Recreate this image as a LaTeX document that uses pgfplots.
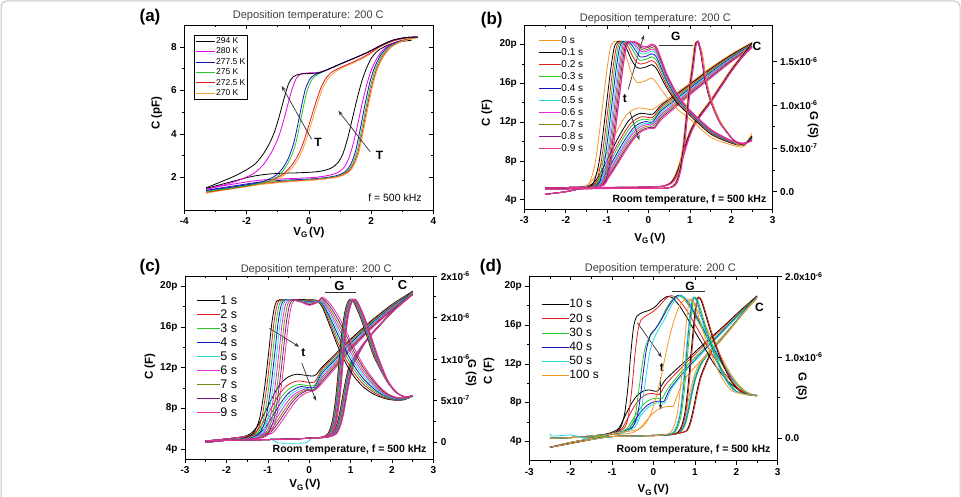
\documentclass[border=0pt]{standalone}
\usepackage{fontspec}
\setmainfont{Liberation Sans}
\usepackage{pgfplots}
\pgfplotsset{compat=1.18}
\usetikzlibrary{arrows.meta}

\definecolor{cOr}{RGB}{245,150,40}
\definecolor{cRd}{RGB}{225,30,30}
\definecolor{cGn}{RGB}{40,200,40}
\definecolor{cBl}{RGB}{20,20,190}
\definecolor{cCy}{RGB}{40,220,220}
\definecolor{cMg}{RGB}{225,40,225}
\definecolor{cOl}{RGB}{130,130,20}
\definecolor{cPu}{RGB}{130,20,130}
\definecolor{cPk}{RGB}{230,50,150}
\definecolor{aMg}{RGB}{230,0,230}
\definecolor{aOr}{RGB}{245,160,60}

\pgfplotsset{
  panel/.style={scale only axis, axis line style={line width=0.6pt},
    tick style={black, line width=0.5pt}, major tick length=4pt, minor tick length=2.4pt,
    tick align=outside, ticklabel style={font=\bfseries\fontsize{10}{12}\selectfont},
    /pgf/number format/assume math mode=true},
  mirror/.style={scale only axis, axis line style={draw=none},
    tick style={black, line width=0.5pt}, major tick length=4pt, minor tick length=2.4pt,
    tick align=inside, xticklabels={}, yticklabels={}},
  gax/.style={panel, axis x line=none, axis y line*=right, y axis line style={-, line width=0.6pt}},
  crv/.style={line width=0.8pt, smooth, tension=0.45, mark=none},
  posA/.style={at={(184.3pt,286pt)}, anchor=south west, width=249pt, height=185pt},
  posB/.style={at={(524.3pt,286.7pt)}, anchor=south west, width=248.4pt, height=184.3pt},
  posC/.style={at={(185pt,36.7pt)}, anchor=south west, width=248.3pt, height=183.3pt},
  posD/.style={at={(529.3pt,35.3pt)}, anchor=south west, width=248.4pt, height=184.2pt},
}
\tikzset{
  arr/.style={-{Stealth[length=5pt,width=3.6pt]}, black!80, line width=0.7pt},
  lab/.style={font=\bfseries\fontsize{12}{12}\selectfont},
  ttl/.style={font=\fontsize{11}{13}\selectfont, text=black!75},
  axl/.style={font=\bfseries\fontsize{11.5}{13}\selectfont},
  rt/.style={font=\bfseries\fontsize{10.5}{12}\selectfont, anchor=east},
}
\newcommand{\VG}{V\raisebox{-0.4ex}{\fontsize{8}{8}\selectfont G}\,(V)}

\begin{document}
\begin{tikzpicture}[x=1pt,y=1pt]
\useasboundingbox (0pt,0pt) rectangle (961pt,496pt);
\draw[black!22, line width=1pt, rounded corners=6pt] (1pt,-20pt) -- (1pt,495pt) -- (960pt,495pt) -- (960pt,-20pt);

% ================= (a) temperature series =================
\begin{axis}[panel, posA,
  xmin=-4, xmax=4, ymin=0.5, ymax=9, xtick pos=bottom, ytick pos=left,
  xtick={-4,-2,0,2,4}, xticklabels={-4,-2,0,2,4}, minor x tick num=1,
  ytick={2,4,6,8}, yticklabels={2,4,6,8}, minor y tick num=1,
  legend cell align=left,
  legend style={at={(0.039,0.946)}, anchor=north west, draw=black, line width=0.4pt, inner sep=1.5pt,
    font=\fontsize{8.5}{9}\selectfont, row sep=1.2pt, nodes={inner sep=0.6pt, text height=6.2pt, text depth=1.8pt}},
  legend image code/.code={\draw[#1] (0pt,0pt) -- (19pt,0pt);}]
\addplot[crv, black] coordinates {(-3.3,1.49) (-2.8,1.68) (-2.3,1.87) (-1.8,2.05) (-1.3,2.15) (-0.8,2.19) (-0.3,2.21) (0.2,2.25) (0.5,2.32) (0.75,2.45) (0.95,2.7) (1.1,3.1) (1.25,3.8) (1.4,4.7) (1.55,5.6) (1.7,6.4) (1.85,7.0) (2.0,7.45) (2.2,7.8) (2.5,8.05) (2.8,8.2) (3.3,8.3)};
\addplot[crv, aMg] coordinates {(-3.3,1.45) (-2.8,1.6) (-2.3,1.72) (-1.8,1.83) (-1.3,1.9) (-0.8,1.93) (-0.3,1.96) (0.2,2.0) (0.6,2.08) (0.9,2.2) (1.1,2.4) (1.25,2.75) (1.4,3.4) (1.55,4.3) (1.7,5.3) (1.85,6.2) (2.0,6.9) (2.2,7.5) (2.45,7.95) (2.8,8.22) (3.2,8.35) (3.5,8.45)};
\addplot[crv, cBl] coordinates {(-3.3,1.4) (-2.8,1.52) (-2.3,1.63) (-1.8,1.74) (-1.3,1.82) (-0.8,1.87) (-0.3,1.9) (0.2,1.94) (0.6,2.0) (0.95,2.1) (1.2,2.3) (1.35,2.6) (1.5,3.2) (1.65,4.2) (1.8,5.3) (1.95,6.3) (2.1,7.0) (2.3,7.6) (2.55,8.0) (2.9,8.25) (3.5,8.45)};
\addplot[crv, cGn] coordinates {(-3.3,1.35) (-2.8,1.47) (-2.3,1.58) (-1.8,1.69) (-1.3,1.77) (-0.8,1.83) (-0.3,1.87) (0.2,1.91) (0.6,1.97) (1.0,2.08) (1.25,2.3) (1.4,2.6) (1.55,3.2) (1.7,4.2) (1.85,5.3) (2.0,6.3) (2.15,7.0) (2.35,7.6) (2.6,8.0) (2.95,8.25) (3.5,8.45)};
\addplot[crv, cRd] coordinates {(-3.3,1.32) (-2.8,1.44) (-2.3,1.55) (-1.8,1.66) (-1.3,1.74) (-0.8,1.8) (-0.3,1.85) (0.2,1.89) (0.6,1.95) (1.0,2.06) (1.28,2.28) (1.43,2.58) (1.58,3.15) (1.73,4.15) (1.88,5.25) (2.03,6.25) (2.18,6.97) (2.38,7.57) (2.63,7.99) (2.98,8.25) (3.5,8.44)};
\addplot[crv, aOr] coordinates {(-3.3,1.28) (-2.8,1.4) (-2.3,1.51) (-1.8,1.62) (-1.3,1.71) (-0.8,1.78) (-0.3,1.83) (0.2,1.88) (0.6,1.94) (1.0,2.04) (1.3,2.25) (1.45,2.55) (1.6,3.1) (1.75,4.1) (1.9,5.2) (2.05,6.2) (2.2,6.95) (2.4,7.55) (2.65,7.98) (3.0,8.25) (3.5,8.42)};
\legend{294 K, 280 K, 277.5 K, 275 K, 272.5 K, 270 K}
% return sweeps
\addplot[crv, aOr, forget plot] coordinates {(-3.3,1.28) (-2.6,1.45) (-2.0,1.58) (-1.5,1.72) (-1.05,1.9) (-0.75,2.15) (-0.5,2.5) (-0.3,2.95) (-0.15,3.45) (0.0,4.1) (0.15,4.8) (0.3,5.5) (0.45,6.1) (0.6,6.5) (0.8,6.8) (1.1,7.05) (1.5,7.3) (1.9,7.6) (2.3,8.0) (2.7,8.25) (3.1,8.38) (3.5,8.42)};
\addplot[crv, cRd, forget plot] coordinates {(-3.3,1.32) (-2.6,1.46) (-2.0,1.6) (-1.5,1.74) (-1.1,1.93) (-0.8,2.18) (-0.55,2.55) (-0.35,3.0) (-0.2,3.5) (-0.05,4.15) (0.1,4.85) (0.25,5.55) (0.4,6.15) (0.55,6.55) (0.75,6.85) (1.1,7.1) (1.5,7.35) (1.9,7.65) (2.3,8.02) (2.7,8.27) (3.1,8.4) (3.5,8.44)};
\addplot[crv, cGn, forget plot] coordinates {(-3.3,1.35) (-2.6,1.48) (-2.0,1.62) (-1.5,1.75) (-1.05,2.0) (-0.8,2.35) (-0.6,2.85) (-0.45,3.4) (-0.35,4.0) (-0.25,4.7) (-0.15,5.4) (-0.05,6.0) (0.1,6.5) (0.25,6.7) (0.38,6.8) (0.6,6.95) (1.0,7.2) (1.5,7.5) (1.9,7.75) (2.3,8.05) (2.7,8.3) (3.1,8.42) (3.5,8.45)};
\addplot[crv, cBl, forget plot] coordinates {(-3.3,1.4) (-2.6,1.53) (-2.0,1.66) (-1.5,1.8) (-1.1,2.05) (-0.85,2.4) (-0.65,2.9) (-0.5,3.5) (-0.4,4.1) (-0.3,4.8) (-0.2,5.5) (-0.1,6.1) (0.05,6.55) (0.2,6.72) (0.35,6.8) (0.6,6.95) (1.0,7.2) (1.5,7.5) (1.9,7.75) (2.3,8.05) (2.7,8.3) (3.1,8.42) (3.5,8.45)};
\addplot[crv, aMg, forget plot] coordinates {(-3.3,1.45) (-2.6,1.7) (-2.1,1.95) (-1.75,2.2) (-1.45,2.6) (-1.2,3.15) (-1.0,3.75) (-0.85,4.4) (-0.7,5.2) (-0.55,6.0) (-0.4,6.55) (-0.25,6.75) (0.0,6.8) (0.3,6.82) (0.6,6.95) (1.0,7.2) (1.5,7.5) (1.9,7.75) (2.3,8.05) (2.7,8.3) (3.1,8.42) (3.5,8.45)};
\addplot[crv, black, forget plot] coordinates {(-3.3,1.52) (-2.9,1.75) (-2.4,2.05) (-2.0,2.35) (-1.7,2.65) (-1.45,3.1) (-1.25,3.6) (-1.1,4.1) (-0.95,4.8) (-0.8,5.6) (-0.65,6.3) (-0.5,6.62) (-0.3,6.74) (0.0,6.77) (0.3,6.8) (0.6,6.95) (1.0,7.2) (1.5,7.5) (1.9,7.75) (2.3,8.05) (2.7,8.3) (3.1,8.42) (3.5,8.45)};
\draw[arr] (axis cs:0.09,3.75) -- (axis cs:-0.87,6.2);
\node[lab] at (axis cs:0.3,3.62) {T};
\draw[arr] (axis cs:1.97,3.18) -- (axis cs:0.95,5.06);
\node[lab] at (axis cs:2.27,3.02) {T};
\node[anchor=east, font=\fontsize{10.5}{12}\selectfont] at (axis cs:3.74,1.05) {f = 500 kHz};
\end{axis}
\begin{axis}[mirror, posA,
  xmin=-4, xmax=4, ymin=0.5, ymax=9, axis x line*=top, axis y line*=right,
  xtick={-4,-2,0,2,4}, minor x tick num=1, ytick={2,4,6,8}, minor y tick num=1]
\end{axis}
\node[font=\bfseries\fontsize{17}{17}\selectfont] at (150pt,478.7pt) {(a)};
\node[ttl] at (308.3pt,480pt) {Deposition temperature: 200 C};
\node[axl, rotate=90] at (156.7pt,382.7pt) {C (pF)};
\node[axl] at (309pt,263.7pt) {\VG};

% ================= (b) 0-0.9 s =================
\begin{axis}[panel, posB,
  xmin=-3, xmax=3, ymin=3, ymax=22, xtick pos=bottom, ytick pos=left,
  xtick={-3,-2,-1,0,1,2,3}, xticklabels={-3,-2,-1,0,1,2,3}, minor x tick num=1,
  ytick={4,8,12,16,20}, yticklabels={4p,8p,12p,16p,20p}, minor y tick num=1,
  legend cell align=left,
  legend style={at={(0.043,0.957)}, anchor=north west, draw=none, fill=none,
    font=\fontsize{10}{11}\selectfont, row sep=1pt, nodes={inner sep=0.5pt, text height=7.8pt, text depth=2.2pt}},
  legend image code/.code={\draw[#1] (0pt,0pt) -- (22pt,0pt);}]
\addplot[crv, cOr] coordinates {(-2.5,5.2) (-2.0,5.25) (-1.6,5.3) (-1.45,5.58) (-1.3,6.32) (-1.15,7.55) (-1.0,8.94) (-0.85,10.33) (-0.7,11.56) (-0.55,12.63) (-0.4,13.2) (-0.22,13.45) (-0.05,13.35) (0.1,13.3) (0.3,13.9) (0.6,14.8) (1.0,16.0) (1.5,17.6) (2.0,19.0) (2.5,20.2)};
\addplot[crv, black] coordinates {(-2.5,5.2) (-2.0,5.25) (-1.6,5.3) (-1.38,5.56) (-1.23,6.24) (-1.08,7.39) (-0.93,8.69) (-0.78,9.99) (-0.63,11.14) (-0.48,12.14) (-0.33,12.67) (-0.18,12.9) (0.1,12.81) (0.3,13.71) (0.6,14.63) (1.0,15.87) (1.5,17.48) (2.0,18.91) (2.5,20.15)};
\addplot[crv, cRd] coordinates {(-2.5,5.2) (-2.0,5.25) (-1.6,5.3) (-1.34,5.54) (-1.19,6.2) (-1.04,7.29) (-0.89,8.54) (-0.74,9.78) (-0.59,10.87) (-0.44,11.82) (-0.29,12.33) (-0.14,12.55) (0.1,12.48) (0.3,13.52) (0.6,14.47) (1.0,15.73) (1.5,17.36) (2.0,18.82) (2.5,20.09)};
\addplot[crv, cGn] coordinates {(-2.5,5.2) (-2.0,5.25) (-1.6,5.3) (-1.31,5.53) (-1.16,6.17) (-1.01,7.22) (-0.86,8.42) (-0.71,9.62) (-0.56,10.68) (-0.41,11.6) (-0.26,12.09) (-0.11,12.3) (0.1,12.24) (0.3,13.33) (0.6,14.3) (1.0,15.6) (1.5,17.23) (2.0,18.73) (2.5,20.03)};
\addplot[crv, cBl] coordinates {(-2.5,5.2) (-2.0,5.25) (-1.6,5.3) (-1.27,5.52) (-1.12,6.13) (-0.97,7.15) (-0.82,8.31) (-0.67,9.47) (-0.52,10.49) (-0.37,11.37) (-0.22,11.85) (-0.07,12.05) (0.1,12.01) (0.3,13.15) (0.6,14.13) (1.0,15.47) (1.5,17.11) (2.0,18.64) (2.5,19.98)};
\addplot[crv, cCy] coordinates {(-2.5,5.2) (-2.0,5.25) (-1.6,5.3) (-1.24,5.52) (-1.09,6.11) (-0.94,7.11) (-0.79,8.24) (-0.64,9.37) (-0.49,10.37) (-0.34,11.24) (-0.19,11.7) (-0.04,11.9) (0.1,11.87) (0.3,12.95) (0.6,13.97) (1.0,15.33) (1.5,16.99) (2.0,18.56) (2.5,19.92)};
\addplot[crv, cMg] coordinates {(-2.5,5.2) (-2.0,5.25) (-1.6,5.3) (-1.22,5.51) (-1.07,6.1) (-0.92,7.07) (-0.77,8.18) (-0.62,9.28) (-0.47,10.26) (-0.32,11.1) (-0.17,11.56) (-0.02,11.75) (0.1,11.73) (0.3,12.77) (0.6,13.8) (1.0,15.2) (1.5,16.87) (2.0,18.47) (2.5,19.87)};
\addplot[crv, cOl] coordinates {(-2.5,5.2) (-2.0,5.25) (-1.6,5.3) (-1.19,5.5) (-1.04,6.08) (-0.89,7.03) (-0.74,8.11) (-0.59,9.19) (-0.44,10.14) (-0.29,10.97) (-0.14,11.41) (0.01,11.6) (0.12,11.59) (0.3,12.58) (0.6,13.63) (1.0,15.07) (1.5,16.74) (2.0,18.38) (2.5,19.81)};
\addplot[crv, cPu] coordinates {(-2.5,5.2) (-2.0,5.25) (-1.6,5.3) (-1.17,5.5) (-1.02,6.06) (-0.87,6.99) (-0.72,8.04) (-0.57,9.09) (-0.42,10.02) (-0.27,10.83) (-0.12,11.26) (0.03,11.45) (0.14,11.44) (0.3,12.39) (0.6,13.47) (1.0,14.93) (1.5,16.62) (2.0,18.29) (2.5,19.76)};
\addplot[crv, cPk] coordinates {(-2.5,5.2) (-2.0,5.25) (-1.6,5.3) (-1.15,5.49) (-1.0,6.04) (-0.85,6.96) (-0.7,7.99) (-0.55,9.03) (-0.4,9.95) (-0.25,10.74) (-0.1,11.17) (0.05,11.35) (0.15,11.35) (0.3,12.2) (0.6,13.3) (1.0,14.8) (1.5,16.5) (2.0,18.2) (2.5,19.7)};
\legend{0 s, 0.1 s, 0.2 s, 0.3 s, 0.4 s, 0.5 s, 0.6 s, 0.7 s, 0.8 s, 0.9 s}
% reverse sweep capacitance
\addplot[crv, cOr, forget plot] coordinates {(-2.5,5.2) (-1.7,5.22) (-1.0,5.25) (-0.3,5.28) (0.2,5.33) (0.36,5.42) (0.51,5.7) (0.61,6.25) (0.71,7.3) (0.81,8.7) (0.91,10.1) (1.01,11.2) (1.11,12.0) (1.26,12.95) (1.5,14.3) (1.75,15.9) (2.0,17.5) (2.25,18.9) (2.5,20.2)};
\addplot[crv, black, forget plot] coordinates {(-2.5,5.2) (-1.7,5.22) (-1.0,5.25) (-0.3,5.28) (0.2,5.33) (0.38,5.42) (0.53,5.7) (0.63,6.25) (0.73,7.3) (0.83,8.7) (0.93,10.1) (1.03,11.2) (1.13,12.0) (1.28,12.92) (1.5,14.15) (1.75,15.75) (2.0,17.35) (2.25,18.75) (2.5,20.15)};
\addplot[crv, cPu, forget plot] coordinates {(-2.5,5.2) (-1.7,5.22) (-1.0,5.25) (-0.3,5.28) (0.2,5.33) (0.4,5.42) (0.55,5.7) (0.65,6.25) (0.75,7.3) (0.85,8.7) (0.95,10.1) (1.05,11.2) (1.15,12.0) (1.3,12.9) (1.5,14.0) (1.75,15.6) (2.0,17.2) (2.25,18.6) (2.5,19.76)};
\addplot[crv, cPk, line width=1.2pt, forget plot] coordinates {(-2.5,5.2) (-1.7,5.22) (-1.0,5.25) (-0.3,5.28) (0.2,5.33) (0.41,5.42) (0.56,5.7) (0.66,6.25) (0.76,7.3) (0.86,8.7) (0.96,10.1) (1.06,11.2) (1.16,12.0) (1.31,12.9) (1.5,14.0) (1.75,15.6) (2.0,17.2) (2.25,18.6) (2.5,19.7)};
\draw[black!80, line width=0.7pt] (axis cs:0.25,19.94) -- (axis cs:1.075,19.94);
\node[lab] at (axis cs:0.66,20.87) {G};
\node[lab] at (axis cs:2.62,19.84) {C};
\node[lab] at (axis cs:-0.57,14.37) {t};
\draw[arr] (axis cs:-0.49,15.37) -- (axis cs:-0.11,20.97);
\draw[arr] (axis cs:-0.45,13.06) -- (axis cs:-0.22,10.14);
\node[rt] at (axis cs:2.93,3.96) {Room temperature, f = 500 kHz};
\end{axis}
\begin{axis}[gax, posB,
  xmin=-3, xmax=3, ymin=-0.203, ymax=1.923, ytick={0,0.5,1,1.5},
  yticklabels={0.0, 5.0x10\textsuperscript{-7}, 1.0x10\textsuperscript{-6}, 1.5x10\textsuperscript{-6}}, minor y tick num=1]
\addplot[crv, cOr] coordinates {(-2.5,-0.03) (-2.0,0.0) (-1.7,0.03) (-1.45,0.08) (-1.3,0.3) (-1.2,0.63) (-1.1,1.03) (-1.0,1.42) (-0.92,1.66) (-0.84,1.73) (-0.72,1.73) (-0.6,1.64) (-0.5,1.50) (-0.4,1.35) (-0.27,1.26) (-0.1,1.275) (0.08,1.31) (0.2,1.25) (0.44,1.09) (0.7,0.95) (1.0,0.84) (1.5,0.63) (2.0,0.54) (2.3,0.52) (2.5,0.67)};
\addplot[crv, black] coordinates {(-2.5,-0.03) (-2.0,0.0) (-1.7,0.03) (-1.36,0.08) (-1.21,0.3) (-1.11,0.63) (-1.01,1.03) (-0.91,1.42) (-0.83,1.66) (-0.75,1.73) (-0.63,1.73) (-0.52,1.64) (-0.42,1.53) (-0.3,1.44) (-0.2,1.424) (-0.05,1.44) (0.08,1.466) (0.2,1.414) (0.44,1.198) (0.7,1.018) (1.0,0.88) (1.5,0.666) (2.0,0.56) (2.3,0.536) (2.5,0.638)};
\addplot[crv, cRd] coordinates {(-2.5,-0.03) (-2.0,0.0) (-1.7,0.03) (-1.31,0.08) (-1.16,0.3) (-1.06,0.63) (-0.96,1.03) (-0.86,1.42) (-0.78,1.66) (-0.70,1.73) (-0.58,1.73) (-0.48,1.66) (-0.38,1.56) (-0.28,1.49) (-0.18,1.473) (-0.04,1.49) (0.08,1.513) (0.2,1.463) (0.44,1.23) (0.7,1.038) (1.0,0.892) (1.5,0.677) (2.0,0.566) (2.3,0.541) (2.5,0.628)};
\addplot[crv, cGn] coordinates {(-2.5,-0.03) (-2.0,0.0) (-1.7,0.03) (-1.27,0.08) (-1.12,0.3) (-1.02,0.63) (-0.92,1.03) (-0.82,1.42) (-0.74,1.66) (-0.66,1.73) (-0.54,1.73) (-0.44,1.68) (-0.34,1.6) (-0.22,1.518) (-0.04,1.53) (0.08,1.555) (0.2,1.508) (0.44,1.26) (0.7,1.057) (1.0,0.903) (1.5,0.687) (2.0,0.572) (2.3,0.545) (2.5,0.62)};
\addplot[crv, cBl] coordinates {(-2.5,-0.03) (-2.0,0.0) (-1.7,0.03) (-1.23,0.08) (-1.08,0.3) (-0.98,0.63) (-0.88,1.03) (-0.78,1.42) (-0.70,1.66) (-0.62,1.73) (-0.50,1.73) (-0.40,1.69) (-0.30,1.62) (-0.2,1.555) (-0.04,1.565) (0.08,1.591) (0.2,1.545) (0.44,1.284) (0.7,1.072) (1.0,0.912) (1.5,0.695) (2.0,0.576) (2.3,0.549) (2.5,0.612)};
\addplot[crv, cCy] coordinates {(-2.5,-0.03) (-2.0,0.0) (-1.7,0.03) (-1.19,0.08) (-1.04,0.3) (-0.94,0.63) (-0.84,1.03) (-0.74,1.42) (-0.66,1.66) (-0.58,1.73) (-0.46,1.73) (-0.36,1.70) (-0.26,1.63) (-0.16,1.588) (-0.02,1.60) (0.08,1.622) (0.2,1.578) (0.44,1.306) (0.7,1.086) (1.0,0.92) (1.5,0.702) (2.0,0.58) (2.3,0.552) (2.5,0.606)};
\addplot[crv, cMg] coordinates {(-2.5,-0.03) (-2.0,0.0) (-1.7,0.03) (-1.16,0.08) (-1.01,0.3) (-0.91,0.63) (-0.81,1.03) (-0.71,1.42) (-0.63,1.66) (-0.55,1.73) (-0.43,1.73) (-0.33,1.70) (-0.23,1.64) (-0.14,1.613) (-0.02,1.625) (0.08,1.646) (0.2,1.603) (0.44,1.322) (0.7,1.096) (1.0,0.926) (1.5,0.707) (2.0,0.583) (2.3,0.554) (2.5,0.601)};
\addplot[crv, cOl] coordinates {(-2.5,-0.03) (-2.0,0.0) (-1.7,0.03) (-1.13,0.08) (-0.98,0.3) (-0.88,0.63) (-0.78,1.03) (-0.68,1.42) (-0.60,1.66) (-0.52,1.73) (-0.40,1.73) (-0.30,1.71) (-0.2,1.65) (-0.12,1.633) (0.0,1.645) (0.08,1.665) (0.2,1.623) (0.44,1.336) (0.7,1.105) (1.0,0.931) (1.5,0.712) (2.0,0.586) (2.3,0.556) (2.5,0.597)};
\addplot[crv, cPu] coordinates {(-2.5,-0.03) (-2.0,0.0) (-1.7,0.03) (-1.10,0.08) (-0.95,0.3) (-0.85,0.63) (-0.75,1.03) (-0.65,1.42) (-0.57,1.66) (-0.49,1.73) (-0.37,1.73) (-0.27,1.71) (-0.17,1.66) (-0.1,1.654) (0.0,1.665) (0.08,1.685) (0.2,1.644) (0.44,1.349) (0.7,1.113) (1.0,0.936) (1.5,0.716) (2.0,0.588) (2.3,0.558) (2.5,0.593)};
\addplot[crv, cPk, line width=1.2pt] coordinates {(-2.5,-0.03) (-2.0,0.0) (-1.7,0.03) (-1.07,0.08) (-0.92,0.3) (-0.82,0.63) (-0.72,1.03) (-0.62,1.42) (-0.54,1.66) (-0.46,1.73) (-0.34,1.73) (-0.24,1.71) (-0.14,1.675) (-0.06,1.67) (0.0,1.68) (0.08,1.70) (0.2,1.66) (0.44,1.36) (0.7,1.12) (1.0,0.94) (1.5,0.72) (2.0,0.59) (2.3,0.56) (2.5,0.59)};
% reverse sweep conductance
\addplot[crv, cOr] coordinates {(-2.5,0.03) (-1.5,0.035) (-0.5,0.04) (0.3,0.04) (0.515,0.05) (0.645,0.1) (0.745,0.26) (0.825,0.52) (0.895,0.85) (0.965,1.17) (1.045,1.45) (1.105,1.68) (1.18,1.735) (1.3,1.60) (1.38,1.35) (1.48,1.13) (1.6,0.96) (1.75,0.8) (1.92,0.68) (2.07,0.58) (2.21,0.53) (2.35,0.56) (2.5,0.67)};
\addplot[crv, black] coordinates {(-2.5,0.03) (-1.5,0.035) (-0.5,0.04) (0.3,0.04) (0.535,0.05) (0.665,0.1) (0.765,0.26) (0.845,0.52) (0.915,0.85) (0.985,1.17) (1.065,1.45) (1.125,1.68) (1.185,1.735) (1.26,1.60) (1.34,1.35) (1.44,1.13) (1.565,0.96) (1.715,0.8) (1.89,0.685) (2.05,0.595) (2.21,0.55) (2.35,0.56) (2.5,0.638)};
\addplot[crv, cPu] coordinates {(-2.5,0.03) (-1.5,0.035) (-0.5,0.04) (0.3,0.04) (0.55,0.05) (0.68,0.1) (0.78,0.26) (0.86,0.52) (0.93,0.85) (1.0,1.17) (1.08,1.45) (1.14,1.68) (1.2,1.735) (1.27,1.60) (1.35,1.35) (1.45,1.13) (1.57,0.96) (1.72,0.8) (1.89,0.69) (2.05,0.6) (2.21,0.555) (2.35,0.56) (2.5,0.593)};
\addplot[crv, cPk, line width=1.2pt] coordinates {(-2.5,0.03) (-1.5,0.035) (-0.5,0.04) (0.3,0.04) (0.555,0.05) (0.685,0.1) (0.785,0.26) (0.865,0.52) (0.935,0.85) (1.005,1.17) (1.085,1.45) (1.145,1.68) (1.205,1.735) (1.275,1.60) (1.355,1.35) (1.455,1.13) (1.575,0.96) (1.725,0.8) (1.89,0.69) (2.05,0.6) (2.21,0.555) (2.35,0.56) (2.5,0.59)};
\end{axis}
\begin{axis}[mirror, posB,
  xmin=-3, xmax=3, ymin=3, ymax=22, axis x line*=top, axis y line=none,
  xtick={-3,-2,-1,0,1,2,3}, minor x tick num=1]
\end{axis}
\node[font=\bfseries\fontsize{17}{17}\selectfont] at (491.7pt,476pt) {(b)};
\node[ttl] at (655.3pt,477pt) {Deposition temperature: 200 C};
\node[axl, rotate=90] at (487pt,383pt) {C (F)};
\node[axl] at (650pt,257.7pt) {\VG};
\node[axl, rotate=-90] at (813pt,371pt) {G (S)};

% ================= (c) 1-9 s =================
\begin{axis}[panel, posC,
  xmin=-3, xmax=3, ymin=3, ymax=21, xtick pos=bottom, ytick pos=left,
  xtick={-3,-2,-1,0,1,2,3}, xticklabels={-3,-2,-1,0,1,2,3}, minor x tick num=1,
  ytick={4,8,12,16,20}, yticklabels={4p,8p,12p,16p,20p}, minor y tick num=1,
  legend cell align=left,
  legend style={at={(0.032,0.913)}, anchor=north west, draw=none, fill=none,
    font=\fontsize{12.5}{13}\selectfont, row sep=1pt, nodes={inner sep=0.5pt, text height=9.5pt, text depth=2.5pt}},
  legend image code/.code={\draw[#1] (0pt,0pt) -- (23pt,0pt);}]
\addplot[crv, black] coordinates {(-2.5,4.8) (-2.0,5.0) (-1.6,5.2) (-1.4,5.57) (-1.25,6.25) (-1.1,7.35) (-0.95,8.58) (-0.8,9.75) (-0.65,10.61) (-0.5,11.1) (-0.3,11.35) (0.12,11.2) (0.3,12.0) (0.6,13.2) (1.0,14.8) (1.5,16.6) (2.0,18.2) (2.5,19.5)};
\addplot[crv, cRd] coordinates {(-2.5,4.8) (-2.0,5.0) (-1.6,5.2) (-1.34,5.53) (-1.19,6.14) (-1.04,7.13) (-0.89,8.23) (-0.74,9.27) (-0.59,10.04) (-0.44,10.48) (-0.26,10.7) (0.12,10.57) (0.3,11.8) (0.6,13.03) (1.0,14.66) (1.5,16.5) (2.0,18.13) (2.5,19.46)};
\addplot[crv, cGn] coordinates {(-2.5,4.8) (-2.0,5.0) (-1.6,5.2) (-1.29,5.51) (-1.14,6.08) (-0.99,7.0) (-0.84,8.03) (-0.69,9.01) (-0.54,9.73) (-0.39,10.14) (-0.23,10.35) (0.12,10.24) (0.3,11.6) (0.6,12.85) (1.0,14.53) (1.5,16.4) (2.0,18.05) (2.5,19.41)};
\addplot[crv, cBl] coordinates {(-2.5,4.8) (-2.0,5.0) (-1.6,5.2) (-1.23,5.5) (-1.08,6.04) (-0.93,6.93) (-0.78,7.92) (-0.63,8.86) (-0.48,9.56) (-0.33,9.95) (-0.19,10.15) (0.12,10.06) (0.3,11.4) (0.6,12.68) (1.0,14.39) (1.5,16.3) (2.0,17.98) (2.5,19.37)};
\addplot[crv, cCy] coordinates {(-2.5,4.8) (-2.0,5.0) (-1.6,5.2) (-1.18,5.49) (-1.03,6.02) (-0.88,6.88) (-0.73,7.84) (-0.58,8.75) (-0.43,9.42) (-0.28,9.81) (-0.15,10.0) (0.12,9.93) (0.3,11.2) (0.6,12.5) (1.0,14.25) (1.5,16.2) (2.0,17.9) (2.5,19.33)};
\addplot[crv, cMg] coordinates {(-2.5,4.8) (-2.0,5.0) (-1.6,5.2) (-1.12,5.48) (-0.97,6.0) (-0.82,6.85) (-0.67,7.79) (-0.52,8.68) (-0.37,9.34) (-0.22,9.71) (-0.11,9.9) (0.12,9.84) (0.3,11.0) (0.6,12.33) (1.0,14.11) (1.5,16.1) (2.0,17.83) (2.5,19.28)};
\addplot[crv, cOl] coordinates {(-2.5,4.8) (-2.0,5.0) (-1.6,5.2) (-1.06,5.48) (-0.91,5.99) (-0.76,6.83) (-0.61,7.76) (-0.46,8.64) (-0.31,9.29) (-0.16,9.66) (-0.06,9.85) (0.12,9.81) (0.3,10.8) (0.6,12.15) (1.0,13.98) (1.5,16.0) (2.0,17.75) (2.5,19.24)};
\addplot[crv, cPu] coordinates {(-2.5,4.8) (-2.0,5.0) (-1.6,5.2) (-1.01,5.48) (-0.86,5.98) (-0.71,6.81) (-0.56,7.73) (-0.41,8.6) (-0.26,9.25) (-0.12,9.62) (-0.02,9.8) (0.12,9.78) (0.3,10.6) (0.6,11.98) (1.0,13.84) (1.5,15.9) (2.0,17.68) (2.5,19.19)};
\addplot[crv, cPk] coordinates {(-2.5,4.8) (-2.0,5.0) (-1.6,5.2) (-0.95,5.47) (-0.8,5.97) (-0.65,6.79) (-0.5,7.7) (-0.35,8.57) (-0.2,9.2) (-0.05,9.57) (0.12,9.75) (0.3,10.4) (0.6,11.8) (1.0,13.7) (1.5,15.8) (2.0,17.6) (2.5,19.15)};
\legend{1 s, 2 s, 3 s, 4 s, 5 s, 6 s, 7 s, 8 s, 9 s}
% reverse sweep capacitance
\addplot[crv, black, forget plot] coordinates {(-2.5,4.8) (-1.5,4.9) (-0.5,5.0) (0.2,5.1) (0.39,5.2) (0.56,5.5) (0.66,6.3) (0.74,7.6) (0.81,9.2) (0.89,10.9) (0.99,12.4) (1.25,14.0) (1.5,15.3) (2.0,17.5) (2.5,19.5)};
\addplot[crv, cRd, forget plot] coordinates {(-2.5,4.8) (-1.5,4.9) (-0.5,5.0) (0.2,5.1) (0.40,5.2) (0.57,5.5) (0.67,6.3) (0.75,7.6) (0.82,9.2) (0.90,10.9) (1.00,12.4) (1.25,14.0) (1.5,15.29) (2.0,17.49) (2.5,19.46)};
\addplot[crv, cGn, forget plot] coordinates {(-2.5,4.8) (-1.5,4.9) (-0.5,5.0) (0.2,5.1) (0.415,5.2) (0.585,5.5) (0.685,6.3) (0.765,7.6) (0.835,9.2) (0.915,10.9) (1.015,12.4) (1.25,14.0) (1.5,15.28) (2.0,17.48) (2.5,19.41)};
\addplot[crv, cBl, forget plot] coordinates {(-2.5,4.8) (-1.5,4.9) (-0.5,5.0) (0.2,5.1) (0.43,5.2) (0.60,5.5) (0.70,6.3) (0.78,7.6) (0.85,9.2) (0.93,10.9) (1.03,12.4) (1.25,14.0) (1.5,15.26) (2.0,17.46) (2.5,19.37)};
\addplot[crv, cCy, forget plot] coordinates {(-2.5,4.8) (-1.5,4.9) (-0.5,5.0) (0.2,5.1) (0.44,5.2) (0.61,5.5) (0.71,6.3) (0.79,7.6) (0.86,9.2) (0.94,10.9) (1.04,12.4) (1.25,14.0) (1.5,15.25) (2.0,17.45) (2.5,19.33)};
\addplot[crv, cMg, forget plot] coordinates {(-2.5,4.8) (-1.5,4.9) (-0.5,5.0) (0.2,5.1) (0.45,5.2) (0.62,5.5) (0.72,6.3) (0.80,7.6) (0.87,9.2) (0.95,10.9) (1.05,12.4) (1.25,14.0) (1.5,15.24) (2.0,17.44) (2.5,19.28)};
\addplot[crv, cOl, forget plot] coordinates {(-2.5,4.8) (-1.5,4.9) (-0.5,5.0) (0.2,5.1) (0.465,5.2) (0.635,5.5) (0.735,6.3) (0.815,7.6) (0.885,9.2) (0.965,10.9) (1.065,12.4) (1.27,14.0) (1.5,15.22) (2.0,17.42) (2.5,19.24)};
\addplot[crv, cPu, forget plot] coordinates {(-2.5,4.8) (-1.5,4.9) (-0.5,5.0) (0.2,5.1) (0.48,5.2) (0.65,5.5) (0.75,6.3) (0.83,7.6) (0.90,9.2) (0.98,10.9) (1.08,12.4) (1.28,14.0) (1.5,15.21) (2.0,17.41) (2.5,19.19)};
\addplot[crv, cPk, forget plot] coordinates {(-2.5,4.8) (-1.5,4.9) (-0.5,5.0) (0.2,5.1) (0.49,5.2) (0.66,5.5) (0.76,6.3) (0.84,7.6) (0.91,9.2) (0.99,10.9) (1.09,12.4) (1.29,14.0) (1.5,15.2) (2.0,17.4) (2.5,19.15)};
\draw[black!80, line width=0.7pt] (axis cs:0.383,19.36) -- (axis cs:1.13,19.36);
\node[lab, font=\bfseries\fontsize{13}{13}\selectfont] at (axis cs:0.73,20.02) {G};
\node[lab, font=\bfseries\fontsize{13}{13}\selectfont] at (axis cs:2.26,20.12) {C};
\node[lab] at (axis cs:-0.14,13.47) {t};
\draw[arr] (axis cs:-0.96,15.86) -- (axis cs:-0.24,14.05);
\draw[arr] (axis cs:-0.18,12.48) -- (axis cs:0.166,8.75);
\node[rt] at (axis cs:2.92,3.9) {Room temperature, f = 500 kHz};
\end{axis}
\begin{axis}[gax, posC,
  xmin=-3, xmax=3, ymin=-0.21, ymax=2.0, ytick={0,0.5,1,1.5,2},
  yticklabels={0, 5x10\textsuperscript{-7}, 1x10\textsuperscript{-6}, 2x10\textsuperscript{-6}, 2x10\textsuperscript{-6}}, minor y tick num=1]
\addplot[crv, black] coordinates {(-2.5,-0.006) (-2.0,0.018) (-1.6,0.043) (-1.35,0.104) (-1.2,0.275) (-1.08,0.643) (-0.98,1.071) (-0.9,1.438) (-0.82,1.658) (-0.72,1.713) (-0.3,1.717) (0,1.713) (0.18,1.707) (0.32,1.622) (0.5,1.401) (0.7,1.144) (0.9,0.936) (1.1,0.777) (1.3,0.667) (1.5,0.593) (1.7,0.545) (1.9,0.514) (2.1,0.502) (2.3,0.508) (2.5,0.551)};
\addplot[crv, cRd] coordinates {(-2.5,-0.006) (-2.0,0.018) (-1.55,0.043) (-1.3,0.104) (-1.15,0.275) (-1.03,0.643) (-0.93,1.071) (-0.85,1.438) (-0.77,1.658) (-0.67,1.713) (-0.28,1.712) (0,1.705) (0.18,1.704) (0.32,1.637) (0.5,1.435) (0.7,1.191) (0.9,0.985) (1.1,0.820) (1.3,0.701) (1.5,0.618) (1.7,0.560) (1.9,0.522) (2.1,0.507) (2.3,0.511) (2.5,0.552)};
\addplot[crv, cGn] coordinates {(-2.5,-0.006) (-2.0,0.018) (-1.5,0.043) (-1.25,0.104) (-1.1,0.275) (-0.98,0.643) (-0.88,1.071) (-0.8,1.438) (-0.72,1.658) (-0.62,1.713) (-0.26,1.707) (0,1.696) (0.18,1.700) (0.32,1.652) (0.5,1.468) (0.7,1.239) (0.9,1.034) (1.1,0.863) (1.3,0.734) (1.5,0.642) (1.7,0.576) (1.9,0.531) (2.1,0.511) (2.3,0.514) (2.5,0.553)};
\addplot[crv, cBl] coordinates {(-2.5,-0.006) (-2.0,0.018) (-1.45,0.043) (-1.2,0.104) (-1.05,0.275) (-0.93,0.643) (-0.83,1.071) (-0.75,1.438) (-0.67,1.658) (-0.57,1.713) (-0.24,1.702) (0,1.688) (0.18,1.696) (0.32,1.668) (0.5,1.502) (0.7,1.286) (0.9,1.083) (1.1,0.906) (1.3,0.768) (1.5,0.667) (1.7,0.591) (1.9,0.539) (2.1,0.516) (2.3,0.517) (2.5,0.553)};
\addplot[crv, cCy] coordinates {(-2.5,-0.006) (-2.0,0.018) (-1.4,0.043) (-1.15,0.104) (-1.0,0.275) (-0.88,0.643) (-0.78,1.071) (-0.7,1.438) (-0.62,1.658) (-0.52,1.713) (-0.23,1.698) (0,1.680) (0.18,1.692) (0.32,1.683) (0.5,1.536) (0.7,1.334) (0.9,1.132) (1.1,0.949) (1.3,0.802) (1.5,0.691) (1.7,0.606) (1.9,0.548) (2.1,0.521) (2.3,0.520) (2.5,0.554)};
\addplot[crv, cMg] coordinates {(-2.5,-0.006) (-2.0,0.018) (-1.35,0.043) (-1.1,0.104) (-0.95,0.275) (-0.83,0.643) (-0.73,1.071) (-0.65,1.438) (-0.57,1.658) (-0.47,1.713) (-0.21,1.691) (0,1.672) (0.18,1.688) (0.32,1.698) (0.5,1.569) (0.7,1.381) (0.9,1.181) (1.1,0.991) (1.3,0.835) (1.5,0.716) (1.7,0.621) (1.9,0.556) (2.1,0.525) (2.3,0.523) (2.5,0.555)};
\addplot[crv, cOl] coordinates {(-2.5,-0.006) (-2.0,0.018) (-1.3,0.043) (-1.05,0.104) (-0.9,0.275) (-0.78,0.643) (-0.68,1.071) (-0.6,1.438) (-0.52,1.658) (-0.42,1.713) (-0.19,1.686) (0,1.663) (0.18,1.684) (0.32,1.713) (0.5,1.603) (0.7,1.428) (0.9,1.230) (1.1,1.034) (1.3,0.869) (1.5,0.740) (1.7,0.637) (1.9,0.564) (2.1,0.530) (2.3,0.526) (2.5,0.556)};
\addplot[crv, cPu] coordinates {(-2.5,-0.006) (-2.0,0.018) (-1.25,0.043) (-1.0,0.104) (-0.85,0.275) (-0.73,0.643) (-0.63,1.071) (-0.55,1.438) (-0.47,1.658) (-0.37,1.713) (-0.17,1.682) (0,1.655) (0.18,1.680) (0.32,1.729) (0.5,1.636) (0.7,1.476) (0.9,1.279) (1.1,1.077) (1.3,0.902) (1.5,0.765) (1.7,0.652) (1.9,0.573) (2.1,0.534) (2.3,0.529) (2.5,0.556)};
\addplot[crv, cPk] coordinates {(-2.5,-0.006) (-2.0,0.018) (-1.2,0.043) (-0.95,0.104) (-0.8,0.275) (-0.68,0.643) (-0.58,1.071) (-0.5,1.438) (-0.42,1.658) (-0.32,1.713) (-0.15,1.677) (0,1.646) (0.18,1.677) (0.32,1.744) (0.5,1.670) (0.7,1.523) (0.9,1.328) (1.1,1.120) (1.3,0.936) (1.5,0.789) (1.7,0.667) (1.9,0.581) (2.1,0.539) (2.3,0.532) (2.5,0.557)};
% reverse sweep conductance
\addplot[crv, black] coordinates {(-2.5,0.012) (-1.5,0.024) (-0.5,0.031) (0.0,0.045) (0.3,0.055) (0.46,0.104) (0.56,0.251) (0.64,0.520) (0.72,0.949) (0.79,1.316) (0.86,1.560) (0.94,1.695) (1.01,1.720) (1.09,1.671) (1.24,1.499) (1.41,1.254) (1.57,1.022) (1.87,0.740) (2.11,0.593) (2.3,0.545) (2.5,0.551)};
\addplot[crv, cRd] coordinates {(-2.5,0.012) (-1.5,0.024) (-0.5,0.031) (0.0,0.045) (0.3,0.055) (0.47,0.104) (0.57,0.251) (0.65,0.520) (0.73,0.949) (0.80,1.316) (0.87,1.560) (0.95,1.695) (1.02,1.720) (1.10,1.671) (1.25,1.499) (1.42,1.254) (1.58,1.022) (1.87,0.740) (2.11,0.593) (2.3,0.545) (2.5,0.552)};
\addplot[crv, cGn] coordinates {(-2.5,0.012) (-1.5,0.024) (-0.5,0.031) (0.0,0.045) (0.3,0.055) (0.485,0.104) (0.585,0.251) (0.665,0.520) (0.745,0.949) (0.815,1.316) (0.885,1.560) (0.965,1.695) (1.035,1.720) (1.115,1.671) (1.265,1.499) (1.435,1.254) (1.595,1.022) (1.87,0.740) (2.11,0.593) (2.3,0.545) (2.5,0.553)};
\addplot[crv, cBl] coordinates {(-2.5,0.012) (-1.5,0.024) (-0.5,0.031) (0.0,0.045) (0.3,0.055) (0.50,0.104) (0.60,0.251) (0.68,0.520) (0.76,0.949) (0.83,1.316) (0.90,1.560) (0.98,1.695) (1.05,1.720) (1.13,1.671) (1.28,1.499) (1.45,1.254) (1.61,1.022) (1.87,0.740) (2.11,0.593) (2.3,0.545) (2.5,0.553)};
\addplot[crv, cCy] coordinates {(-2.5,0.012) (-1.5,0.024) (-0.9,0.03) (-0.75,-0.012) (-0.1,-0.012) (0.05,0.04) (0.3,0.055) (0.51,0.104) (0.61,0.251) (0.69,0.520) (0.77,0.949) (0.84,1.316) (0.91,1.560) (0.99,1.695) (1.06,1.720) (1.14,1.671) (1.29,1.499) (1.46,1.254) (1.62,1.022) (1.87,0.740) (2.11,0.593) (2.3,0.545) (2.5,0.554)};
\addplot[crv, cMg] coordinates {(-2.5,0.012) (-1.5,0.024) (-0.5,0.031) (0.0,0.045) (0.3,0.055) (0.52,0.104) (0.62,0.251) (0.70,0.520) (0.78,0.949) (0.85,1.316) (0.92,1.560) (1.00,1.695) (1.07,1.720) (1.15,1.671) (1.30,1.499) (1.47,1.254) (1.63,1.022) (1.87,0.740) (2.11,0.593) (2.3,0.545) (2.5,0.555)};
\addplot[crv, cOl] coordinates {(-2.5,0.012) (-1.5,0.024) (-0.5,0.031) (0.0,0.045) (0.3,0.055) (0.535,0.104) (0.635,0.251) (0.715,0.520) (0.795,0.949) (0.865,1.316) (0.935,1.560) (1.015,1.695) (1.085,1.720) (1.165,1.671) (1.315,1.499) (1.485,1.254) (1.645,1.022) (1.88,0.740) (2.11,0.593) (2.3,0.545) (2.5,0.556)};
\addplot[crv, cPu] coordinates {(-2.5,0.012) (-1.5,0.024) (-0.5,0.031) (0.0,0.045) (0.3,0.055) (0.55,0.104) (0.65,0.251) (0.73,0.520) (0.81,0.949) (0.88,1.316) (0.95,1.560) (1.03,1.695) (1.10,1.720) (1.18,1.671) (1.33,1.499) (1.50,1.254) (1.66,1.022) (1.89,0.740) (2.12,0.593) (2.3,0.545) (2.5,0.556)};
\addplot[crv, cPk, line width=1.1pt] coordinates {(-2.5,0.012) (-1.5,0.024) (-0.5,0.031) (0.0,0.045) (0.3,0.055) (0.56,0.104) (0.66,0.251) (0.74,0.520) (0.82,0.949) (0.89,1.316) (0.96,1.560) (1.04,1.695) (1.11,1.720) (1.19,1.671) (1.34,1.499) (1.51,1.254) (1.67,1.022) (1.90,0.740) (2.12,0.593) (2.3,0.545) (2.5,0.557)};
\end{axis}
\begin{axis}[mirror, posC,
  xmin=-3, xmax=3, ymin=3, ymax=21, axis x line*=top, axis y line=none,
  xtick={-3,-2,-1,0,1,2,3}, minor x tick num=1]
\end{axis}
\node[font=\bfseries\fontsize{17}{17}\selectfont] at (150pt,229.3pt) {(c)};
\node[ttl] at (316.2pt,226pt) {Deposition temperature: 200 C};
\node[axl, rotate=90] at (150pt,129.3pt) {C (F)};
\node[axl] at (305pt,11pt) {\VG};
\node[axl, rotate=-90] at (471pt,123pt) {G (S)};

% ================= (d) 10-100 s =================
\begin{axis}[panel, posD,
  xmin=-3, xmax=3, ymin=2, ymax=21, xtick pos=bottom, ytick pos=left,
  xtick={-3,-2,-1,0,1,2,3}, xticklabels={-3,-2,-1,0,1,2,3}, minor x tick num=1,
  ytick={4,8,12,16,20}, yticklabels={4p,8p,12p,16p,20p}, minor y tick num=1,
  legend cell align=left,
  legend style={at={(0.035,0.894)}, anchor=north west, draw=none, fill=none,
    font=\fontsize{12}{13}\selectfont, row sep=1.5pt, nodes={inner sep=0.5pt, text height=9.2pt, text depth=2.5pt}},
  legend image code/.code={\draw[#1] (0pt,0pt) -- (27pt,0pt);}]
\addplot[crv, black] coordinates {(-2.5,4.3) (-2.0,4.4) (-1.5,4.55) (-1.1,4.8) (-0.85,5.3) (-0.7,6.5) (-0.55,7.78) (-0.4,8.7) (-0.25,9.18) (-0.1,9.3) (0.1,9.2) (0.3,10.4) (0.7,12.0) (1.2,14.0) (1.7,15.9) (2.1,17.5) (2.5,19.0)};
\addplot[crv, cRd] coordinates {(-2.5,4.3) (-2.0,4.4) (-1.5,4.55) (-1.02,4.8) (-0.77,5.3) (-0.62,6.4) (-0.47,7.56) (-0.32,8.4) (-0.17,8.84) (-0.02,8.95) (0.14,8.85) (0.32,10.0) (0.7,11.7) (1.2,13.8) (1.7,15.8) (2.1,17.4) (2.5,18.95)};
\addplot[crv, cGn] coordinates {(-2.5,4.3) (-2.0,4.4) (-1.5,4.55) (-0.9,4.8) (-0.65,5.3) (-0.5,6.25) (-0.35,7.25) (-0.2,7.98) (-0.05,8.36) (0.1,8.45) (0.2,8.4) (0.36,9.5) (0.7,11.3) (1.2,13.5) (1.7,15.6) (2.1,17.3) (2.5,18.9)};
\addplot[crv, cBl] coordinates {(-2.5,4.3) (-2.0,4.4) (-1.5,4.55) (-0.85,4.8) (-0.6,5.3) (-0.45,6.16) (-0.3,7.07) (-0.15,7.72) (0.0,8.06) (0.15,8.15) (0.25,8.1) (0.4,9.4) (0.7,11.0) (1.2,13.3) (1.7,15.5) (2.1,17.2) (2.5,18.85)};
\addplot[crv, cCy] coordinates {(-2.5,4.3) (-2.0,4.4) (-1.5,4.55) (-0.8,4.8) (-0.55,5.3) (-0.4,6.11) (-0.25,6.97) (-0.1,7.6) (0.05,7.92) (0.2,8.0) (0.28,7.95) (0.42,9.3) (0.7,10.9) (1.2,13.2) (1.7,15.4) (2.1,17.15) (2.5,18.85)};
\addplot[crv, cOr] coordinates {(-2.5,4.3) (-2.0,4.4) (-1.5,4.55) (-0.6,4.8) (-0.35,5.3) (-0.2,5.99) (-0.05,6.73) (0.1,7.26) (0.25,7.53) (0.4,7.6) (0.48,7.65) (0.58,8.8) (0.75,10.4) (1.2,12.6) (1.7,15.0) (2.1,16.9) (2.5,18.75)};
\legend{10 s, 20 s, 30 s, 40 s, 50 s, 100 s}
% reverse sweep capacitance
\addplot[crv, black, forget plot] coordinates {(-2.5,4.3) (-1.5,4.45) (-0.5,4.55) (0.2,4.65) (0.5,4.75) (0.78,5.05) (0.88,5.9) (0.96,7.3) (1.04,9.0) (1.13,10.6) (1.25,11.9) (1.4,13.3) (1.6,14.3) (1.8,15.35) (2.0,16.4) (2.25,17.75) (2.5,19.0)};
\addplot[crv, cRd, forget plot] coordinates {(-2.5,4.3) (-1.5,4.45) (-0.5,4.55) (0.2,4.65) (0.5,4.75) (0.80,5.05) (0.90,5.9) (0.98,7.3) (1.06,9.0) (1.15,10.6) (1.27,11.9) (1.42,13.3) (1.6,14.3) (1.8,15.35) (2.0,16.4) (2.25,17.72) (2.5,18.95)};
\addplot[crv, cGn, forget plot] coordinates {(-2.5,4.3) (-1.5,4.45) (-0.5,4.55) (0.2,4.65) (0.5,4.75) (0.68,5.05) (0.78,5.9) (0.86,7.3) (0.94,9.0) (1.03,10.6) (1.15,11.9) (1.3,12.9) (1.5,13.9) (1.75,15.1) (2.0,16.4) (2.25,17.7) (2.5,18.9)};
\addplot[crv, cBl, forget plot] coordinates {(-2.5,4.3) (-1.5,4.45) (-0.5,4.55) (0.2,4.65) (0.5,4.75) (0.66,5.05) (0.76,5.9) (0.84,7.3) (0.92,9.0) (1.01,10.6) (1.13,11.9) (1.28,12.85) (1.5,13.85) (1.75,15.05) (2.0,16.35) (2.25,17.65) (2.5,18.85)};
\addplot[crv, cCy, forget plot] coordinates {(-2.5,4.3) (-1.5,4.45) (-0.5,4.55) (0.2,4.65) (0.5,4.75) (0.65,5.05) (0.75,5.9) (0.83,7.3) (0.91,9.0) (1.00,10.6) (1.12,11.9) (1.28,12.85) (1.5,13.85) (1.75,15.05) (2.0,16.35) (2.25,17.65) (2.5,18.85)};
\addplot[crv, cOr, forget plot] coordinates {(-2.5,4.3) (-1.5,4.45) (-0.5,4.55) (0.2,4.65) (0.45,4.75) (0.62,5.05) (0.72,5.9) (0.80,7.3) (0.88,9.0) (0.97,10.6) (1.09,11.9) (1.25,12.8) (1.5,13.8) (1.75,15.0) (2.0,16.3) (2.25,17.6) (2.5,18.75)};
\draw[black!80, line width=0.7pt] (axis cs:0.44,19.43) -- (axis cs:1.24,19.43);
\node[lab] at (axis cs:0.88,20.02) {G};
\node[lab] at (axis cs:2.56,17.82) {C};
\node[lab] at (axis cs:0.2,11.63) {t};
\draw[arr] (axis cs:-0.39,16.23) -- (axis cs:0.2,12.66);
\draw[arr] (axis cs:0.17,10.66) -- (axis cs:0.17,7.3);
\node[rt] at (axis cs:2.91,3.1) {Room temperature, f = 500 kHz};
\end{axis}
\begin{axis}[gax, posD,
  xmin=-3, xmax=3, ymin=-0.28, ymax=2.0, ytick={0,1,2},
  yticklabels={0.0, 1.0x10\textsuperscript{-6}, 2.0x10\textsuperscript{-6}}, minor y tick num=1]
\addplot[crv, black] coordinates {(-2.5,-0.114) (-2.0,-0.054) (-1.5,-0.006) (-1.0,0.054) (-0.8,0.127) (-0.7,0.295) (-0.62,0.620) (-0.55,1.041) (-0.48,1.378) (-0.4,1.510) (-0.25,1.558) (-0.1,1.582) (0.05,1.630) (0.18,1.702) (0.32,1.751) (0.45,1.739) (0.62,1.642) (0.8,1.498) (1.0,1.318) (1.2,1.149) (1.4,0.969) (1.6,0.824) (1.8,0.704) (2.0,0.620) (2.2,0.560) (2.35,0.536) (2.5,0.524)};
\addplot[crv, cRd] coordinates {(-2.5,-0.114) (-2.0,-0.054) (-1.5,-0.006) (-1.0,0.054) (-0.7,0.127) (-0.6,0.295) (-0.52,0.620) (-0.45,1.017) (-0.38,1.318) (-0.3,1.462) (-0.15,1.522) (0.0,1.570) (0.15,1.642) (0.3,1.727) (0.42,1.763) (0.55,1.739) (0.72,1.642) (0.9,1.498) (1.1,1.318) (1.3,1.137) (1.5,0.969) (1.7,0.812) (1.9,0.692) (2.1,0.596) (2.3,0.548) (2.5,0.524)};
\addplot[crv, cGn] coordinates {(-2.5,-0.114) (-2.0,-0.054) (-1.5,-0.006) (-1.0,0.054) (-0.6,0.115) (-0.45,0.259) (-0.38,0.500) (-0.3,0.800) (-0.22,1.077) (-0.12,1.233) (0.0,1.318) (0.15,1.438) (0.3,1.594) (0.45,1.715) (0.57,1.763) (0.7,1.739) (0.85,1.642) (1.0,1.510) (1.2,1.330) (1.4,1.137) (1.6,0.957) (1.8,0.800) (2.0,0.668) (2.2,0.572) (2.35,0.536) (2.5,0.524)};
\addplot[crv, cBl] coordinates {(-2.5,-0.114) (-2.0,-0.054) (-1.5,-0.006) (-1.0,0.054) (-0.55,0.115) (-0.4,0.259) (-0.32,0.500) (-0.25,0.800) (-0.17,1.101) (-0.07,1.282) (0.05,1.354) (0.2,1.474) (0.35,1.618) (0.5,1.727) (0.6,1.769) (0.72,1.751) (0.87,1.654) (1.02,1.522) (1.2,1.354) (1.4,1.161) (1.6,0.981) (1.8,0.812) (2.0,0.680) (2.2,0.584) (2.35,0.542) (2.5,0.530)};
\addplot[crv, cCy] coordinates {(-2.5,-0.114) (-2.0,-0.054) (-1.5,-0.006) (-1.0,0.054) (-0.5,0.115) (-0.35,0.235) (-0.26,0.463) (-0.18,0.764) (-0.1,1.041) (0.0,1.221) (0.12,1.342) (0.27,1.474) (0.42,1.630) (0.55,1.727) (0.64,1.763) (0.76,1.739) (0.9,1.654) (1.05,1.522) (1.22,1.354) (1.42,1.161) (1.62,0.981) (1.82,0.812) (2.0,0.680) (2.2,0.584) (2.35,0.542) (2.5,0.530)};
\addplot[crv, cOr] coordinates {(-2.5,-0.114) (-2.0,-0.054) (-1.5,-0.006) (-1.0,0.054) (-0.4,0.103) (-0.2,0.175) (-0.05,0.319) (0.08,0.536) (0.2,0.800) (0.32,1.101) (0.45,1.378) (0.58,1.582) (0.7,1.690) (0.8,1.721) (0.9,1.702) (1.02,1.618) (1.18,1.474) (1.35,1.293) (1.55,1.089) (1.75,0.897) (1.95,0.728) (2.15,0.608) (2.35,0.548) (2.5,0.530)};
% reverse sweep conductance
\addplot[crv, black] coordinates {(-2.5,-0.114) (-2.0,-0.066) (-1.5,-0.018) (-1.0,0.018) (0.0,0.030) (0.43,0.042) (0.58,0.066) (0.68,0.151) (0.76,0.319) (0.83,0.620) (0.90,1.017) (0.97,1.402) (1.03,1.666) (1.08,1.745) (1.15,1.702) (1.26,1.522) (1.38,1.318) (1.53,1.101) (1.70,0.884) (1.88,0.704) (2.08,0.584) (2.3,0.536) (2.5,0.524)};
\addplot[crv, cRd] coordinates {(-2.5,-0.114) (-2.0,-0.066) (-1.5,-0.018) (-1.0,0.018) (0.0,0.030) (0.45,0.042) (0.6,0.066) (0.7,0.151) (0.78,0.319) (0.85,0.620) (0.92,1.017) (0.99,1.402) (1.05,1.666) (1.1,1.745) (1.17,1.702) (1.28,1.522) (1.4,1.318) (1.55,1.101) (1.72,0.884) (1.9,0.704) (2.1,0.584) (2.3,0.536) (2.5,0.524)};
\addplot[crv, cGn] coordinates {(-2.5,-0.114) (-2.0,-0.066) (-1.5,-0.018) (-1.35,0.04) (-1.25,0.02) (-1.0,0.018) (0.0,0.030) (0.35,0.042) (0.5,0.066) (0.6,0.151) (0.68,0.319) (0.75,0.620) (0.82,1.017) (0.89,1.402) (0.95,1.666) (1.0,1.745) (1.07,1.702) (1.18,1.522) (1.3,1.318) (1.45,1.101) (1.62,0.884) (1.8,0.704) (2.0,0.584) (2.25,0.536) (2.5,0.524)};
\addplot[crv, cBl] coordinates {(-2.5,-0.114) (-2.0,-0.066) (-1.5,-0.018) (-1.0,0.018) (0.0,0.030) (0.32,0.042) (0.47,0.066) (0.57,0.151) (0.65,0.319) (0.72,0.620) (0.79,1.017) (0.86,1.402) (0.92,1.666) (0.97,1.745) (1.04,1.702) (1.15,1.522) (1.27,1.318) (1.42,1.101) (1.59,0.884) (1.77,0.704) (1.97,0.584) (2.25,0.54) (2.5,0.530)};
\addplot[crv, cCy] coordinates {(-2.5,0.06) (-2.45,0.025) (-2.0,0.04) (-1.9,0.03) (-1.5,-0.018) (-1.0,0.018) (0.0,0.030) (0.31,0.042) (0.46,0.066) (0.56,0.151) (0.64,0.319) (0.71,0.620) (0.78,1.017) (0.85,1.402) (0.91,1.666) (0.96,1.745) (1.03,1.702) (1.14,1.522) (1.26,1.318) (1.41,1.101) (1.58,0.884) (1.76,0.704) (1.96,0.584) (2.25,0.54) (2.5,0.530)};
\addplot[crv, cOr] coordinates {(-2.5,-0.114) (-2.0,-0.066) (-1.5,-0.018) (-1.0,0.018) (0.0,0.030) (0.25,0.042) (0.4,0.066) (0.5,0.151) (0.58,0.319) (0.65,0.620) (0.72,1.017) (0.79,1.402) (0.85,1.666) (0.9,1.72) (0.97,1.690) (1.08,1.522) (1.2,1.318) (1.35,1.101) (1.52,0.884) (1.7,0.704) (1.9,0.584) (2.2,0.54) (2.5,0.530)};
\end{axis}
\begin{axis}[mirror, posD,
  xmin=-3, xmax=3, ymin=2, ymax=21, axis x line*=top, axis y line=none,
  xtick={-3,-2,-1,0,1,2,3}, minor x tick num=1]
\end{axis}
\node[font=\bfseries\fontsize{17}{17}\selectfont] at (490.8pt,229.3pt) {(d)};
\node[ttl] at (660.3pt,227.7pt) {Deposition temperature: 200 C};
\node[axl, rotate=90] at (489pt,125pt) {C (F)};
\node[axl] at (653.3pt,6pt) {\VG};
\node[axl, rotate=-90] at (801.7pt,109.3pt) {G (S)};
\end{tikzpicture}
\end{document}
